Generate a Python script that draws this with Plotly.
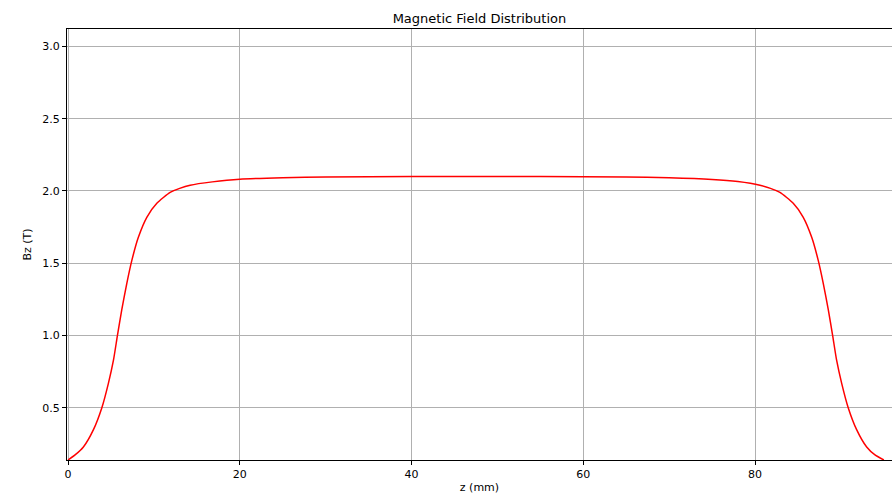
import plotly.graph_objects as go

# Axial field profile along the solenoid axis
z_mm = [0.0, 0.82, 1.79, 2.96, 3.93, 4.70, 5.29, 5.75, 6.26, 6.84, 7.43, 8.19, 9.19,
        10.34, 11.89, 13.0, 14.22, 16.8, 20.0, 25.0, 30.0,
        40.0, 47.5, 55.0, 65.0, 70.0, 75.0, 78.0, 80.57, 81.8, 82.9, 84.45, 85.6, 86.6,
        87.36, 87.95, 88.53, 89.04, 89.5, 90.09, 90.86, 91.83, 93.0, 93.97, 95.0]
bz_t = [0.14, 0.175, 0.23, 0.35, 0.50, 0.67, 0.83, 1.00, 1.18, 1.36, 1.52, 1.68, 1.82,
        1.915, 1.99, 2.018, 2.04, 2.063, 2.082, 2.092, 2.097,
        2.10, 2.10, 2.10, 2.097, 2.092, 2.08, 2.065, 2.04, 2.018, 1.99, 1.915, 1.82, 1.68,
        1.52, 1.36, 1.18, 1.00, 0.83, 0.67, 0.50, 0.35, 0.23, 0.175, 0.14]

x_ticks = [0, 20, 40, 60, 80]
y_ticks = [0.5, 1.0, 1.5, 2.0, 2.5, 3.0]

FONT = "DejaVu Sans"

fig = go.Figure(
    go.Scatter(
        x=z_mm, y=bz_t, mode="lines",
        line=dict(color="#ff0000", width=1.5, shape="spline", smoothing=0.6),
        hoverinfo="skip", showlegend=False,
    )
)

axis_common = dict(
    showline=True, linecolor="black", linewidth=1,
    showgrid=True, gridcolor="#b0b0b0", gridwidth=0.8,
    ticks="outside", ticklen=4, tickcolor="black", tickwidth=1,
    tickfont=dict(family=FONT, size=11, color="black"),
    zeroline=False,
)

fig.update_layout(
    width=892, height=494,
    margin=dict(l=67, r=0, t=29, b=34),
    paper_bgcolor="white", plot_bgcolor="white",
    font=dict(family=FONT, color="black"),
    title=dict(text="Magnetic Field Distribution", x=0.5375, xanchor="center",
               y=1 - 18 / 494, yref="container", yanchor="middle",
               font=dict(family=FONT, size=13, color="black")),
    xaxis=dict(range=[-0.12, 95.95], tickvals=x_ticks, ticktext=[str(t) for t in x_ticks],
               mirror=True,
               title=dict(text="z (mm)", font=dict(family=FONT, size=11), standoff=6),
               **axis_common),
    yaxis=dict(range=[0.14, 3.12], tickvals=y_ticks, ticktext=[f"{t:.1f}" for t in y_ticks],
               title=dict(text="Bz (T)", font=dict(family=FONT, size=11), standoff=8),
               **axis_common),
)

fig.write_html("out.html")
